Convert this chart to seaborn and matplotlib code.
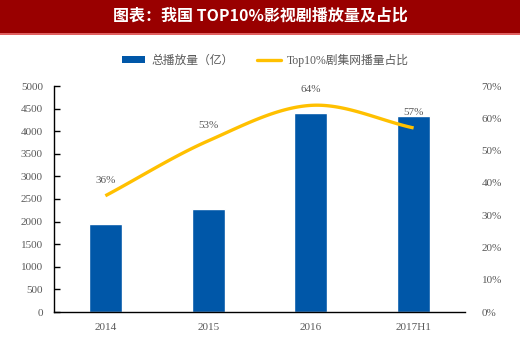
import numpy as np
import pandas as pd
import matplotlib
matplotlib.use("Agg")
import matplotlib.pyplot as plt
import seaborn as sns
from matplotlib.patches import Rectangle
from matplotlib.lines import Line2D
from matplotlib.patches import Patch

categories = ["2014", "2015", "2016", "2017H1"]
total_plays = [1950, 2270, 4400, 4340]
top10_share = [36, 53, 64, 57]
share_labels = ["36%", "53%", "64%", "57%"]

sns.set_theme(style="white")
plt.rcParams['font.family'] = ['Liberation Serif', 'Noto Sans CJK SC', 'DejaVu Sans']

BLUE = "#0057A8"
YELLOW = "#FFC000"
GRAY = "#595959"

fig = plt.figure(figsize=(5.2, 3.42), dpi=100)
fig.patches.append(Rectangle((0, 1 - 33/342), 1, 33/342, transform=fig.transFigure,
                             facecolor="#990000", edgecolor="none", zorder=0))
fig.patches.append(Rectangle((0, 1 - 35/342), 1, 2/342, transform=fig.transFigure,
                             facecolor="#E06060", edgecolor="none", zorder=0))
fig.text(0.5, 1 - 16/342, "图表：我国 TOP10%影视剧播放量及占比", color="white",
         ha="center", va="center", fontsize=11.5, fontweight="bold",
         family=['Noto Sans CJK SC', 'DejaVu Sans'])

ax = fig.add_axes([54/520, 1 - 312/342, (465 - 54)/520, (312 - 86)/342])
df = pd.DataFrame({"year": categories, "plays": total_plays})
sns.barplot(data=df, x="year", y="plays", color=BLUE, saturation=1, width=0.32, ax=ax)
ax.set_xlim(-0.5, 3.5)
ax.set_ylim(0, 5000)
ax.set_yticks(np.arange(0, 5001, 500))
ax.set_xlabel("")
ax.set_ylabel("")
for s in ["top", "right"]:
    ax.spines[s].set_visible(False)
for s in ["left", "bottom"]:
    ax.spines[s].set_color("black")
    ax.spines[s].set_linewidth(1.0)
ax.tick_params(axis="y", direction="in", length=4, width=1, colors="black",
               labelcolor=GRAY, labelsize=8, left=True, pad=8)
ax.tick_params(axis="x", length=0, labelcolor=GRAY, labelsize=8, pad=8)
ax.grid(False)

ax2 = ax.twinx()
ax2.set_ylim(0, 70)
ax2.set_yticks(np.arange(0, 71, 10))
ax2.set_yticklabels([f"{v}%" for v in range(0, 71, 10)])
for s in ax2.spines.values():
    s.set_visible(False)
ax2.tick_params(axis="y", length=0, labelcolor=GRAY, labelsize=8, pad=12)
ax2.grid(False)

# smooth curve through the data points (Catmull-Rom, like Excel smoothing)
xs = np.arange(len(top10_share), dtype=float)
ys = np.array(top10_share, dtype=float)
px = np.concatenate([[2*xs[0]-xs[1]], xs, [2*xs[-1]-xs[-2]]])
py = np.concatenate([[2*ys[0]-ys[1]], ys, [2*ys[-1]-ys[-2]]])
cx, cy = [], []
for i in range(1, len(px) - 2):
    t = np.linspace(0, 1, 40)
    for arr, out in ((px, cx), (py, cy)):
        p0, p1, p2, p3 = arr[i-1], arr[i], arr[i+1], arr[i+2]
        out.extend(0.5*((2*p1) + (-p0+p2)*t + (2*p0-5*p1+4*p2-p3)*t**2 + (-p0+3*p1-3*p2+p3)*t**3))
ax2.plot(cx, cy, color=YELLOW, lw=2.4, solid_capstyle="butt")
for x, y, lab in zip(xs, ys, share_labels):
    ax2.annotate(lab, (x, y), xytext=(0, 8), textcoords="offset points",
                 ha="center", va="bottom", fontsize=8, color=GRAY)

handles = [Patch(facecolor=BLUE, edgecolor="none"),
           Line2D([], [], color=YELLOW, lw=2.4)]
leg = fig.legend(handles, ["总播放量（亿）", "Top10%剧集网播量占比"],
                 loc="center", bbox_to_anchor=(0.51, 1 - 60/342), ncol=2, frameon=False,
                 fontsize=8.5, handlelength=2.0, handleheight=0.5, columnspacing=2.0,
                 handletextpad=0.5)
for t in leg.get_texts():
    t.set_color(GRAY)
    t.set_fontfamily(['Liberation Serif', 'Noto Sans CJK SC'])

fig.savefig("out.png", dpi=100, facecolor="white")
